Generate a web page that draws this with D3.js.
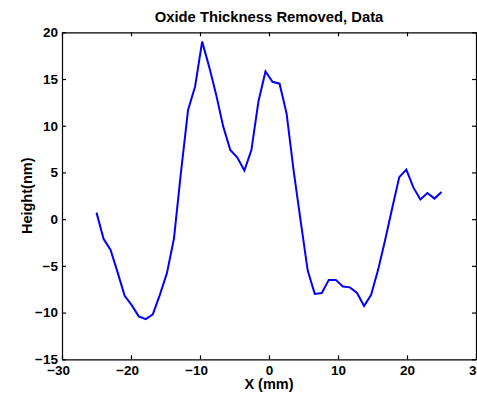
<!DOCTYPE html>
<html>
<head>
<meta charset="utf-8">
<script src="https://cdn.jsdelivr.net/npm/d3@7/dist/d3.min.js"></script>
<style>
    body { margin: 0; background: #fff; }
    svg { display: block; }
    .axis text { font-family: "Liberation Sans", Arial, sans-serif; font-weight: bold; font-size: 13.5px; fill: #000; }
    .axis path, .axis line { stroke: #000; stroke-width: 1.2; }
    .label { font-family: "Liberation Sans", Arial, sans-serif; font-weight: bold; fill: #000; }
</style>
</head>
<body>
<div id="chart"></div>
<script>
// scan positions (mm), 50 evenly spaced samples across the wafer
var x_mm = [-25, -23.98, -22.96, -21.94, -20.92, -19.90, -18.88, -17.86, -16.84, -15.82,
            -14.80, -13.78, -12.76, -11.73, -10.71, -9.69, -8.67, -7.65, -6.63, -5.61,
            -4.59, -3.57, -2.55, -1.53, -0.51, 0.51, 1.53, 2.55, 3.57, 4.59,
            5.61, 6.63, 7.65, 8.67, 9.69, 10.71, 11.73, 12.76, 13.78, 14.80,
            15.82, 16.84, 17.86, 18.88, 19.90, 20.92, 21.94, 22.96, 23.98, 25];

// removed oxide height (nm) at each position
var height_nm = [0.7, -2.1, -3.3, -5.7, -8.2, -9.2, -10.4, -10.7, -10.2, -8.1,
                 -5.8, -2.1, 5.0, 11.7, 14.2, 19.0, 16.3, 13.3, 9.9, 7.4,
                 6.6, 5.2, 7.4, 12.6, 15.8, 14.7, 14.5, 11.3, 5.2, -0.2,
                 -5.5, -8.0, -7.9, -6.5, -6.5, -7.2, -7.3, -7.9, -9.3, -8.1,
                 -5.4, -2.2, 1.2, 4.5, 5.3, 3.4, 2.1, 2.8, 2.2, 2.9];

var x_ticks = [-30, -20, -10, 0, 10, 20, 30];
var y_ticks = [-15, -10, -5, 0, 5, 10, 15, 20];

var title = "Oxide Thickness Removed, Data",
    x_title = "X (mm)",
    y_title = "Height(nm)";

var W = 477, H = 393,
    margins = {top: 32.3, right: 1, bottom: 33.7, left: 62},
    width = W - margins.left - margins.right,
    height = H - margins.top - margins.bottom,
    tick_len = 4;

var data = x_mm.map(function(d, i) { return {x: d, y: height_nm[i]}; });

var xScale = d3.scaleLinear().domain([-30, 30]).range([0, width]);
var yScale = d3.scaleLinear().domain([-15, 20]).range([height, 0]);

// matlab style minus sign, digits stay centred on the tick
var fmt = function(d) { return d < 0 ? "\u2212" + Math.abs(d) : String(d); };

var svg = d3.select("#chart").append("svg")
    .attr("width", W)
    .attr("height", H);

var g = svg.append("g")
    .attr("transform", "translate(" + margins.left + "," + margins.top + ")");

// inward ticks on all four sides, domain lines make the box
var xAxis = g.append("g")
    .attr("class", "x axis")
    .attr("transform", "translate(0," + height + ")")
    .call(d3.axisBottom(xScale).tickValues(x_ticks).tickFormat(fmt)
        .tickSizeInner(-tick_len).tickSizeOuter(0).tickPadding(6.5));

xAxis.selectAll("text")
    .attr("dx", function(d) { return d < 0 ? "-0.29em" : 0; });

g.append("g")
    .attr("class", "x axis")
    .call(d3.axisTop(xScale).tickValues(x_ticks).tickFormat("")
        .tickSizeInner(-tick_len).tickSizeOuter(0));

g.append("g")
    .attr("class", "y axis")
    .call(d3.axisLeft(yScale).tickValues(y_ticks).tickFormat(fmt)
        .tickSizeInner(-tick_len).tickSizeOuter(0).tickPadding(4));

g.append("g")
    .attr("class", "y axis")
    .attr("transform", "translate(" + width + ",0)")
    .call(d3.axisRight(yScale).tickValues(y_ticks).tickFormat("")
        .tickSizeInner(-tick_len).tickSizeOuter(0));

var line = d3.line()
    .x(function(d) { return xScale(d.x); })
    .y(function(d) { return yScale(d.y); });

g.append("path")
    .datum(data)
    .attr("fill", "none")
    .attr("stroke", "#0000ff")
    .attr("stroke-width", 2)
    .attr("stroke-linejoin", "miter")
    .attr("d", line);

svg.append("text")
    .attr("class", "label")
    .attr("x", margins.left + width / 2)
    .attr("y", 21.5)
    .attr("text-anchor", "middle")
    .style("font-size", "14.8px")
    .text(title);

svg.append("text")
    .attr("class", "label")
    .attr("x", margins.left + width / 2)
    .attr("y", 389)
    .attr("text-anchor", "middle")
    .style("font-size", "14.5px")
    .text(x_title);

svg.append("text")
    .attr("class", "label")
    .attr("transform", "translate(32," + (margins.top + height / 2) + ") rotate(-90)")
    .attr("text-anchor", "middle")
    .style("font-size", "14.5px")
    .text(y_title);
</script>
</body>
</html>
